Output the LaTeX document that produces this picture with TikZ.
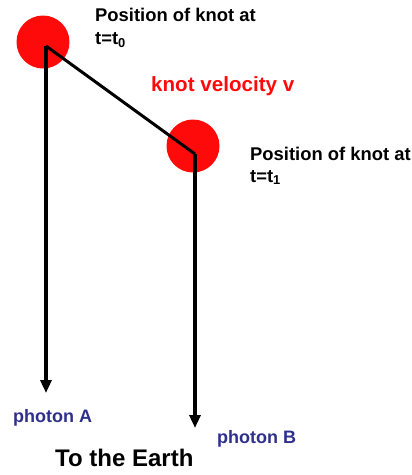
\documentclass[tikz,border=0pt]{standalone}
\usepackage{fontspec}
\setmainfont{Liberation Sans}
\usepackage{xcolor}
\usetikzlibrary{
    positioning,
    calc,
    arrows.meta
}
\definecolor{Vermelho}{HTML}{FF0A0A}
\definecolor{AzulFoton}{HTML}{2F2F8C}

\begin{document}
\begin{tikzpicture}[
        x=1pt, y=-1pt,
        knot/.style={circle, fill=Vermelho, minimum size=53pt, inner sep=0pt},
        lbl/.style={anchor=base west, inner sep=0pt, font=\bfseries\fontsize{18.4}{18.4}\selectfont},
        photon/.style={lbl, text=AzulFoton, font=\bfseries\fontsize{18}{18}\selectfont},
        ray/.style={line width=3.6pt, -{Triangle[length=13pt,width=11pt]}}
    ]
    \useasboundingbox (0,0) rectangle (412,475);

    % knots
    \node[knot] (knotA) at (43,42) {};
    \node[knot] (knotB) at (193,146) {};
    \coordinate (posA) at (46,46);
    \coordinate (posB) at (195,154);

    % photon ends
    \coordinate (endA) at (46,393);
    \coordinate (endB) at (195,428);

    \draw[line width=3pt] (posA) -- (posB);
    \draw[ray] (posA) -- (endA);
    \draw[ray] (posB) -- (endB);

    % labels
    \node[lbl] (posAtxt) at (95,21) {Position of knot at};
    \node[lbl] (timeA) at (95,44) {t=t\textsubscript{0}};
    \node[lbl, text=Vermelho, font=\bfseries\fontsize{20.6}{20.6}\selectfont] (vel) at (151,91) {knot velocity v};
    \node[lbl] (posBtxt) at (250,160) {Position of knot at};
    \node[lbl] (timeB) at (250,182) {t=t\textsubscript{1}};
    \node[photon] (photA) at (13,422) {photon A};
    \node[photon] (photB) at (217,443) {photon B};
    \node[lbl, font=\bfseries\fontsize{24}{24}\selectfont] (earth) at (55,466) {To the Earth};
\end{tikzpicture}
\end{document}
